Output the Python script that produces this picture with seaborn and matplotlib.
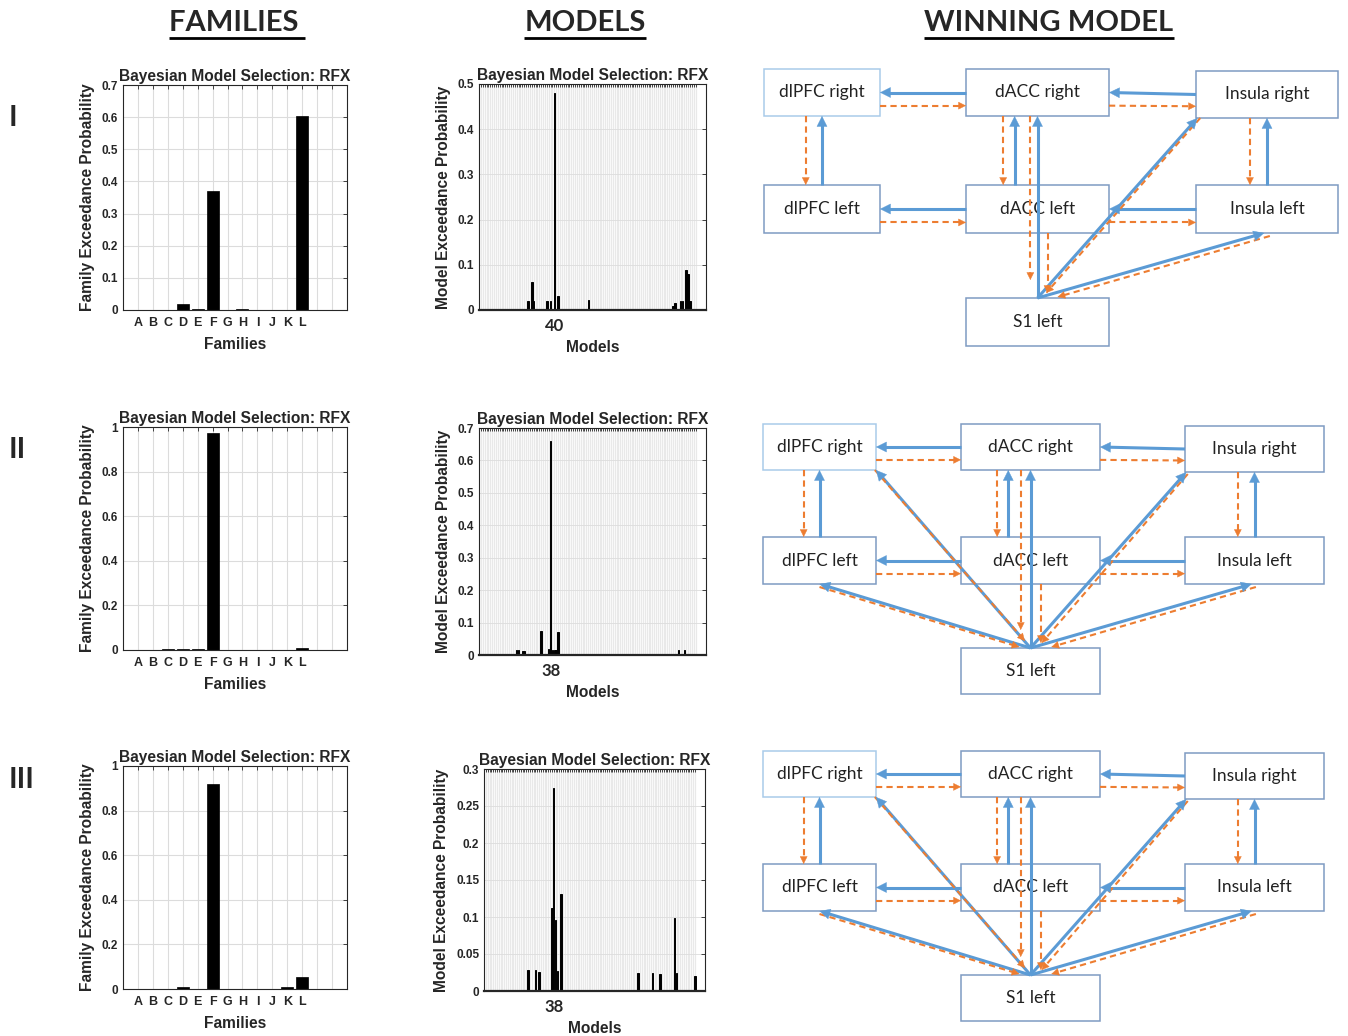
"""Bayesian model selection results (families / models) with the winning DCM network."""

import matplotlib

matplotlib.use("Agg")

import matplotlib.pyplot as plt
import numpy as np
import seaborn as sns
from matplotlib import font_manager
from matplotlib.patches import FancyArrowPatch, Rectangle

# ---------------------------------------------------------------- data
FAMILIES = list("ABCDEFGHIJKL")
family_ep_1 = [0.0, 0.0, 0.0, 0.018, 0.003, 0.370, 0.0, 0.003, 0.0, 0.001, 0.001, 0.603]
family_ep_2 = [0.0, 0.0, 0.003, 0.003, 0.005, 0.975, 0.0, 0.0, 0.0, 0.0, 0.0, 0.007]
family_ep_3 = [0.0, 0.0, 0.0, 0.008, 0.002, 0.920, 0.0, 0.0, 0.0, 0.002, 0.008, 0.055]

N_MODELS = 115
model_ids_1 = [26, 28, 29, 36, 38, 40, 42, 58, 103, 104, 107, 108, 110, 111, 112]
model_ep_1 = [0.020, 0.062, 0.020, 0.020, 0.020, 0.480, 0.032, 0.022,
              0.008, 0.015, 0.020, 0.020, 0.088, 0.080, 0.020]
model_ids_2 = [20, 21, 23, 24, 33, 37, 38, 39, 40, 41, 42, 88, 91, 106, 109]
model_ep_2 = [0.015, 0.015, 0.013, 0.013, 0.073, 0.017, 0.660, 0.015,
              0.015, 0.015, 0.070, 0.003, 0.003, 0.016, 0.014]
model_ids_3 = [24, 28, 30, 37, 38, 39, 40, 42, 84, 92, 96, 104, 105, 115]
model_ep_3 = [0.029, 0.028, 0.026, 0.112, 0.275, 0.096, 0.027, 0.131,
              0.024, 0.024, 0.023, 0.099, 0.025, 0.020]
winners = [40, 38, 38]

ROW_LABELS = ["I", "II", "III"]
HEADERS = ["FAMILIES ", "MODELS", "WINNING MODEL"]
NODE_LABELS = {
    "dlR": "dlPFC right", "dAR": "dACC right", "inR": "Insula right",
    "dlL": "dlPFC left", "dAL": "dACC left", "inL": "Insula left", "S1": "S1 left",
}

# ---------------------------------------------------------------- layout
W, H = 1348, 1036
FAM_RECTS = [(123, 85, 347, 310), (123, 427, 347, 650), (123, 766, 347, 989)]
MOD_RECTS = [(479, 84, 706, 310), (479, 428, 706, 655), (484, 769, 705, 991)]
FAM_Y = [(0.7, 0.1), (1.0, 0.2), (1.0, 0.2)]
MOD_Y = [(0.5, 0.1), (0.7, 0.1), (0.3, 0.05)]

BOXES_1 = {
    "dlR": (764, 69, 880, 116), "dAR": (966, 69, 1109, 116), "inR": (1196, 71, 1338, 118),
    "dlL": (764, 185, 880, 233), "dAL": (966, 185, 1109, 233), "inL": (1196, 185, 1338, 233),
    "S1": (966, 298, 1109, 346),
}
BOXES_2 = {
    "dlR": (763, 424, 876, 470), "dAR": (961, 424, 1100, 470), "inR": (1185, 426, 1324, 472),
    "dlL": (763, 537, 876, 584), "dAL": (961, 537, 1100, 584), "inL": (1185, 537, 1324, 584),
    "S1": (961, 648, 1100, 694),
}
BOXES_3 = {k: (a, b + 327, c, d + 327) for k, (a, b, c, d) in BOXES_2.items()}

# (box, side, fraction[, lift])
COMMON_BLUE = [
    (("dAR", "l", .5), ("dlR", "r", .5)),
    (("inR", "l", .5), ("dAR", "r", .5)),
    (("dAL", "l", .5), ("dlL", "r", .5)),
    (("inL", "l", .5), ("dAL", "r", .5)),
    (("dlL", "t", .5), ("dlR", "b", .5)),
    (("dAL", "t", .34), ("dAR", "b", .34)),
    (("inL", "t", .5), ("inR", "b", .5)),
    (("S1", "t", .5), ("dAR", "b", .5)),
    (("S1", "t", .5), ("inR", "b", .01)),
    (("S1", "t", .5), ("inL", "b", .48)),
]
COMMON_ORANGE = [
    (("dlR", "r", .78), ("dAR", "l", .78)),
    (("dAR", "r", .78), ("inR", "l", .75)),
    (("dlL", "r", .78), ("dAL", "l", .78)),
    (("dAL", "r", .78), ("inL", "l", .78)),
    (("dlR", "b", .36), ("dlL", "t", .36)),
    (("dAR", "b", .26), ("dAL", "t", .26)),
    (("inR", "b", .38), ("inL", "t", .38)),
]
ORANGE_1 = [
    (("dAR", "b", .45), ("S1", "t", .45, 18)),
    (("dAL", "b", .57), ("S1", "t", .57, 5)),
    (("inR", "b", .03), ("S1", "t", .56, 5)),
    (("inL", "b", .52, -3), ("S1", "t", .64, 1)),
]
BLUE_2 = [
    (("S1", "t", .5), ("dlR", "b", 1.0)),
    (("S1", "t", .5), ("dlL", "b", .5)),
]
ORANGE_2 = [
    (("dAR", "b", .43), ("S1", "t", .43, 18)),
    (("dAL", "b", .575), ("S1", "t", .575, 5)),
    (("dlR", "b", .99), ("S1", "t", .46, 7)),
    (("dlL", "b", .5, -3), ("S1", "t", .42, 1)),
    (("inR", "b", .02, -2), ("S1", "t", .58, 5)),
    (("inL", "b", .51, -3), ("S1", "t", .65, 1)),
]

BLUE = "#5B9BD5"
ORANGE = "#ED7D31"
BOX_EDGE = "#7F9BC2"
BOX_EDGE_LIGHT = "#A9CBEA"

sns.set_style("white")
_names = {f.name for f in font_manager.fontManager.ttflist}
CHART_FONT = "Liberation Sans Narrow" if "Liberation Sans Narrow" in _names else "Liberation Sans"
SLIDE_FONT = "Lato" if "Lato" in _names else "DejaVu Sans"
plt.rcParams["font.family"] = [CHART_FONT, "DejaVu Sans"]
LABEL_SIZE = 12.5 if CHART_FONT == "Liberation Sans Narrow" else 11.2


def px_rect(l, t, r, b):
    return [l / W, 1 - b / H, (r - l) / W, (b - t) / H]


def style_matlab(ax, ymax, ystep, grid_lw):
    ax.set_ylim(0, ymax)
    yt = np.round(np.arange(0, ymax + 1e-9, ystep), 3)
    ax.set_yticks(yt)
    ax.set_yticklabels([f"{v:g}" for v in yt], fontsize=8.5, fontweight="bold")
    ax.grid(True, color="#DCDCDC", lw=grid_lw)
    ax.set_axisbelow(True)
    ax.tick_params(direction="in", length=3, width=0.6, top=True, right=True, colors="#262626")
    for s in ax.spines.values():
        s.set_visible(True)
        s.set_color("#262626")
        s.set_linewidth(0.8)
    ax.set_title("Bayesian Model Selection: RFX", fontsize=LABEL_SIZE, fontweight="bold", pad=3)


def draw_families(ax, values, ymax, ystep):
    sns.barplot(x=FAMILIES, y=values, color="black", width=0.8, saturation=1,
                edgecolor="black", linewidth=0.5, ax=ax)
    ax.set_xlim(-1, 14)
    ax.set_xticks(range(14))
    ax.set_xticklabels(FAMILIES + ["", ""], fontsize=9, fontweight="bold")
    style_matlab(ax, ymax, ystep, 0.8)
    ax.tick_params(axis="x", pad=5)
    ax.set_xlabel("Families", fontsize=LABEL_SIZE, fontweight="bold", labelpad=6)
    ax.set_ylabel("Family Exceedance Probability", fontsize=LABEL_SIZE, fontweight="bold",
                  labelpad=5)


def draw_models(ax, ids, values, winner, ymax, ystep):
    sns.barplot(x=ids, y=values, native_scale=True, orient="x", color="black",
                width=0.8, saturation=1, edgecolor="black", linewidth=0.7, ax=ax)
    ax.set_xlim(0, 120.5)
    ticks = list(range(1, N_MODELS + 1))
    ax.set_xticks(ticks)
    ax.set_xticklabels([str(m) if m == winner else "" for m in ticks], fontsize=12,
                       fontweight="bold", family=SLIDE_FONT)
    style_matlab(ax, ymax, ystep, 0.6)
    ax.grid(True, axis="x", color="#E9E9E9", lw=0.9)
    ax.tick_params(axis="x", length=2.5, pad=6)
    ax.spines["bottom"].set_linewidth(1.6)
    ax.set_xlabel("Models", fontsize=LABEL_SIZE, fontweight="bold", labelpad=4)
    ax.set_ylabel("Model Exceedance Probability", fontsize=LABEL_SIZE, fontweight="bold",
                  labelpad=5)


def anchor(boxes, spec):
    name, side, t = spec[:3]
    lift = spec[3] if len(spec) > 3 else 0
    x0, y0, x1, y1 = boxes[name]
    if side == "l":
        return np.array([x0, y0 + t * (y1 - y0)])
    if side == "r":
        return np.array([x1, y0 + t * (y1 - y0)])
    if side == "t":
        return np.array([x0 + t * (x1 - x0), y0 - lift])
    return np.array([x0 + t * (x1 - x0), y1 - lift])


def arrow(ax, p0, p1, color, lw, ls, head_len):
    d = (p1 - p0) / np.linalg.norm(p1 - p0)
    stop = p1 - d * head_len * 0.8
    ax.plot([p0[0], stop[0]], [p0[1], stop[1]], color=color, lw=lw, ls=ls,
            solid_capstyle="butt", zorder=4)
    ax.add_patch(FancyArrowPatch(p1 - d * 2, p1, arrowstyle="-|>,head_length=0.6,head_width=0.3",
                                 mutation_scale=head_len * 1.2, color=color, lw=0.3,
                                 shrinkA=0, shrinkB=0, zorder=5))


def draw_network(ax, boxes, blues, oranges):
    for name, (x0, y0, x1, y1) in boxes.items():
        ec = BOX_EDGE_LIGHT if name == "dlR" else BOX_EDGE
        ax.add_patch(Rectangle((x0, y0), x1 - x0, y1 - y0, fc="white", ec=ec, lw=1.1, zorder=2))
        ax.text((x0 + x1) / 2, (y0 + y1) / 2, NODE_LABELS[name], ha="center", va="center",
                fontsize=12.5, family=SLIDE_FONT, color="#222222", zorder=3)
    for a, b in blues:
        arrow(ax, anchor(boxes, a), anchor(boxes, b), BLUE, 2.2, "-", 10)
    for a, b in oranges:
        arrow(ax, anchor(boxes, a), anchor(boxes, b), ORANGE, 1.5, (0, (3, 2)), 7)


fig = plt.figure(figsize=(W / 100, H / 100), dpi=100)
fig.patch.set_facecolor("white")

overlay = fig.add_axes([0, 0, 1, 1])
overlay.set_xlim(0, W)
overlay.set_ylim(H, 0)
overlay.axis("off")
overlay.patch.set_alpha(0)

family_sets = [family_ep_1, family_ep_2, family_ep_3]
model_sets = [(model_ids_1, model_ep_1), (model_ids_2, model_ep_2), (model_ids_3, model_ep_3)]
for i in range(3):
    axf = fig.add_axes(px_rect(*FAM_RECTS[i]))
    draw_families(axf, family_sets[i], *FAM_Y[i])
    axm = fig.add_axes(px_rect(*MOD_RECTS[i]))
    draw_models(axm, model_sets[i][0], model_sets[i][1], winners[i], *MOD_Y[i])

draw_network(overlay, BOXES_1, COMMON_BLUE, COMMON_ORANGE + ORANGE_1)
draw_network(overlay, BOXES_2, COMMON_BLUE + BLUE_2, COMMON_ORANGE + ORANGE_2)
draw_network(overlay, BOXES_3, COMMON_BLUE + BLUE_2, COMMON_ORANGE + ORANGE_2)

# row numerals
for label, y in zip(ROW_LABELS, [118, 450, 780]):
    overlay.text(9, y, label, ha="left", va="center", fontsize=21, fontweight="bold",
                 family=SLIDE_FONT)

# underlined column headers
header_texts = []
for label, x in zip(HEADERS, [237, 585, 1049]):
    header_texts.append(overlay.text(x, 23, label, ha="center", va="center", fontsize=21,
                                     fontweight="bold", family=SLIDE_FONT))
fig.canvas.draw()
inv = overlay.transData.inverted()
for t in header_texts:
    bb = t.get_window_extent()
    (xa, _), (xb, _) = inv.transform([(bb.x0, bb.y0), (bb.x1, bb.y1)])
    overlay.plot([xa, xb], [38, 38], color="black", lw=2, solid_capstyle="butt")

fig.savefig("out.png", dpi=100)
